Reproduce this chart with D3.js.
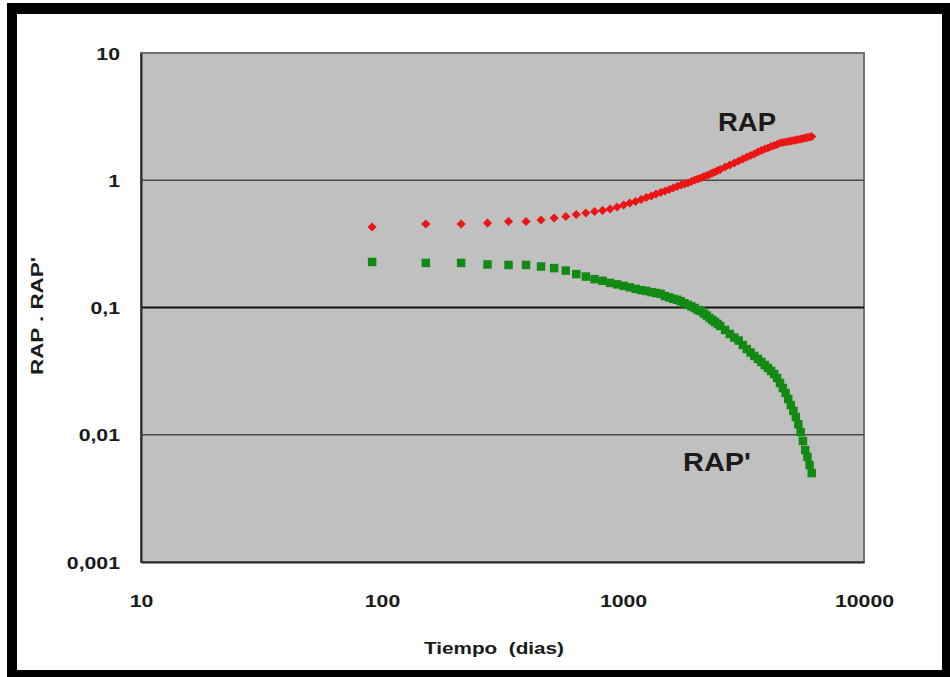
<!DOCTYPE html>
<html>
<head>
<meta charset="utf-8">
<script src="https://cdn.jsdelivr.net/npm/d3@7"></script>
<style>
  body { margin: 0; background: #fff; }
  svg text { font-family: "Liberation Sans", Arial, sans-serif; font-weight: bold; fill: #1a1a1a; }
</style>
</head>
<body>
<div id="chart"></div>
<script>
// tiempo en dias (cada 2 meses)
const tiempo = [91,152,213,274,335,396,457,518,579,640,
  701,762,823,884,945,1006,1067,1128,1189,1250,
  1311,1372,1433,1494,1555,1616,1677,1738,1799,1860,
  1921,1982,2043,2104,2165,2226,2287,2348,2409,2470,
  2531,
  2653,2775,2897,3019,3141,3263,3385,3507,3629,3751,
  3873,3995,4117,4239,4361,4483,4605,4727,4849,4971,
  5093,5215,5337,5459,5581,5703,5825,5947,6069];

const rap = [0.429,0.453,0.453,0.461,0.474,0.474,0.487,0.505,0.519,0.538,
  0.553,0.568,0.579,0.594,0.616,0.639,0.663,0.681,0.706,0.732,
  0.752,0.780,0.801,0.823,0.846,0.869,0.893,0.918,0.934,0.951,
  0.978,1.005,1.023,1.041,1.070,1.090,1.110,1.140,1.161,1.193,
  1.215,
  1.271,1.318,1.366,1.417,1.469,1.523,1.565,1.608,1.667,1.713,
  1.760,1.792,1.842,1.876,1.910,1.962,1.980,1.998,2.016,2.034,
  2.053,2.072,2.090,2.110,2.129,2.148,2.168,2.188,2.207];

const rapPrima = [0.228,0.224,0.224,0.218,0.216,0.216,0.210,0.204,0.195,0.183,
  0.175,0.167,0.162,0.156,0.152,0.148,0.144,0.140,0.137,0.135,
  0.132,0.130,0.128,0.123,0.120,0.117,0.115,0.112,0.108,0.105,
  0.102,0.0991,0.0956,0.0939,0.0897,0.0865,0.0827,0.0797,0.0769,0.0742,
  0.0716,
  0.0666,0.0619,0.0581,0.0550,0.0507,0.0472,0.0443,0.0416,0.0394,0.0373,
  0.0353,0.0335,0.0317,0.0300,0.0279,0.0255,0.0233,0.0213,0.0191,0.0171,
  0.0154,0.0138,0.0121,0.0105,0.00893,0.00759,0.00669,0.00578,0.00500];

const xTicks = [10, 100, 1000, 10000];
const xTickLabels = ["10", "100", "1000", "10000"];
const yTicks = [0.001, 0.01, 0.1, 1, 10];
const yTickLabels = ["0,001", "0,01", "0,1", "1", "10"];
const gridValues = [0.01, 0.1, 1];

const W = 950, H = 677;
const plot = {left: 141, right: 864, top: 53, bottom: 562};
const stretch = 1.25; // el texto original esta estirado a lo ancho

const svg = d3.select("#chart").append("svg")
  .attr("width", W)
  .attr("height", H);

// marco negro
svg.append("rect").attr("x", 7).attr("y", 3).attr("width", 943).attr("height", 674).attr("fill", "#000");
svg.append("rect").attr("x", 17).attr("y", 14).attr("width", 925).attr("height", 656).attr("fill", "#fff");

const x = d3.scaleLog().domain([10, 10000]).range([plot.left, plot.right]);
const y = d3.scaleLog().domain([0.001, 10]).range([plot.bottom, plot.top]);

// area de trazado
svg.append("rect")
  .attr("x", plot.left).attr("y", plot.top)
  .attr("width", plot.right - plot.left).attr("height", plot.bottom - plot.top)
  .attr("fill", "#c0c0c0")
  .attr("stroke", "#707070")
  .attr("stroke-width", 2);

// lineas de division
svg.selectAll(".grid")
  .data(gridValues)
  .enter().append("line")
  .attr("class", "grid")
  .attr("x1", plot.left).attr("x2", plot.right)
  .attr("y1", d => y(d)).attr("y2", d => y(d))
  .attr("stroke", d => d === 0.1 ? "#111" : "#4a4a4a")
  .attr("stroke-width", d => d === 0.1 ? 2.2 : 1.6);

// ejes
const xAxis = svg.append("g")
  .attr("transform", "translate(0," + plot.bottom + ")")
  .call(d3.axisBottom(x).tickValues(xTicks).tickSize(0).tickPadding(33)
    .tickFormat((d, i) => xTickLabels[i]));
xAxis.select(".domain").attr("stroke", "#2a2a2a").attr("stroke-width", 2);
xAxis.selectAll("text")
  .attr("font-size", 17)
  .attr("fill", "#1a1a1a")
  .attr("transform", "scale(" + stretch + ",1)");

const yAxis = svg.append("g")
  .attr("transform", "translate(" + plot.left + ",0)")
  .call(d3.axisLeft(y).tickValues(yTicks).tickSize(0).tickPadding(0)
    .tickFormat((d, i) => yTickLabels[i]));
yAxis.select(".domain").attr("stroke", "#2a2a2a").attr("stroke-width", 2);
yAxis.selectAll("text")
  .attr("font-size", 17)
  .attr("fill", "#1a1a1a")
  .attr("x", -21 / stretch)
  .attr("dy", "0.36em")
  .attr("transform", "scale(" + stretch + ",1)");
svg.selectAll(".tick text").attr("font-family", null);

// series
const rapData = tiempo.map((t, i) => ({t: t, v: rap[i]}));
const rapPrimaData = tiempo.map((t, i) => ({t: t, v: rapPrima[i]}));

svg.append("g").selectAll("path")
  .data(rapPrimaData)
  .enter().append("path")
  .attr("d", d3.symbol().type(d3.symbolSquare).size(72))
  .attr("transform", d => "translate(" + x(d.t) + "," + y(d.v) + ")")
  .attr("fill", "#138a13");

svg.append("g").selectAll("path")
  .data(rapData)
  .enter().append("path")
  .attr("d", d3.symbol().type(d3.symbolSquare).size(42))
  .attr("transform", d => "translate(" + x(d.t) + "," + y(d.v) + ") rotate(45)")
  .attr("fill", "#ea1515");

// etiquetas de las series
svg.append("text")
  .attr("x", 718).attr("y", 131)
  .attr("font-size", 25)
  .attr("textLength", 58).attr("lengthAdjust", "spacingAndGlyphs")
  .text("RAP");

svg.append("text")
  .attr("x", 683).attr("y", 471)
  .attr("font-size", 25)
  .attr("textLength", 68).attr("lengthAdjust", "spacingAndGlyphs")
  .text("RAP'");

// titulos de ejes
svg.append("text")
  .attr("x", 494).attr("y", 654)
  .attr("text-anchor", "middle")
  .attr("font-size", 16)
  .attr("textLength", 140).attr("lengthAdjust", "spacingAndGlyphs")
  .text("Tiempo\u00a0\u00a0(dias)");

svg.append("text")
  .attr("transform", "translate(43,316) rotate(-90)")
  .attr("text-anchor", "middle")
  .attr("font-size", 16)
  .attr("textLength", 118).attr("lengthAdjust", "spacingAndGlyphs")
  .text("RAP . RAP'");
</script>
</body>
</html>
